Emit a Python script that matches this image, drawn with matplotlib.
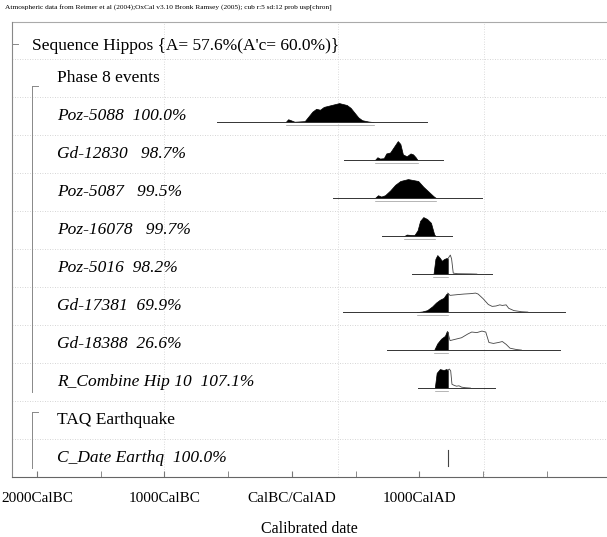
import numpy as np
import matplotlib.pyplot as plt
from matplotlib.ticker import FixedLocator, MultipleLocator
import matplotlib.transforms as mtransforms

plt.rcParams['font.family'] = ['Liberation Serif', 'DejaVu Serif']

# ---- data (years AD, negative = BC; p = relative height) ----
header = ("Atmospheric data from Reimer et al (2004);OxCal v3.10 Bronk Ramsey (2005); "
          "cub r:5 sd:12 prob usp[chron]")
title = "Sequence Hippos {A= 57.6%(A'c= 60.0%)}"
phase_label = "Phase 8 events"
taq_label = "TAQ Earthquake"

sample_labels = ["Poz-5088  100.0%", "Gd-12830   98.7%", "Poz-5087   99.5%",
                 "Poz-16078   99.7%", "Poz-5016  98.2%", "Gd-17381  69.9%",
                 "Gd-18388  26.6%", "R_Combine Hip 10  107.1%"]
cdate_label = "C_Date Earthq  100.0%"

# extent of the thin likelihood line under each distribution
line_start = [-590, 408, 322, 706, 941, 400, 745, 988]
line_end = [1059, 1184, 1490, 1255, 1569, 2141, 2102, 1592]

# filled posterior distributions
post_yr = [
    [-50, -30, -10, 20, 100, 130, 160, 190, 220, 250, 280, 310, 340, 370, 400, 430, 460, 490, 520, 550, 600, 640],
    [650, 670, 690, 720, 740, 770, 800, 830, 850, 870, 900, 930, 950, 970, 985],
    [650, 675, 700, 730, 770, 810, 850, 880, 910, 950, 990, 1030, 1070, 1110, 1130],
    [880, 900, 930, 960, 985, 1005, 1030, 1060, 1090, 1115, 1125],
    [1110, 1125, 1140, 1160, 1175, 1195, 1215, 1222],
    [980, 1020, 1060, 1100, 1130, 1160, 1190, 1210, 1222],
    [1115, 1140, 1170, 1200, 1215, 1222],
    [1120, 1135, 1160, 1190, 1210, 1222],
]
post_p = [
    [0, 0.15, 0.10, 0.02, 0.05, 0.30, 0.55, 0.70, 0.65, 0.80, 0.85, 0.90, 0.95, 1.0, 0.95, 0.90, 0.75, 0.50, 0.25, 0.10, 0.03, 0],
    [0, 0.15, 0.08, 0.10, 0.35, 0.40, 0.70, 1.0, 0.85, 0.30, 0.20, 0.35, 0.30, 0.15, 0],
    [0, 0.15, 0.08, 0.15, 0.40, 0.70, 0.90, 0.95, 1.0, 0.95, 0.90, 0.60, 0.35, 0.10, 0],
    [0, 0.08, 0.06, 0.05, 0.30, 0.80, 1.0, 0.90, 0.70, 0.10, 0],
    [0, 0.80, 1.0, 0.85, 0.70, 0.80, 0.85, 0.80],
    [0, 0.03, 0.10, 0.30, 0.50, 0.65, 0.75, 0.95, 1.0],
    [0, 0.35, 0.60, 0.75, 1.0, 0.95],
    [0, 0.80, 1.0, 0.95, 1.0, 0.95],
]

# unfilled likelihood outline continuing after the earthquake cut-off (None = no outline)
like_yr = [None, None, None, None,
           [1222, 1232, 1242, 1252, 1265, 1300, 1400, 1450],
           [1222, 1240, 1300, 1350, 1400, 1440, 1460, 1500, 1540, 1570, 1600, 1630, 1650, 1680, 1700, 1740, 1800, 1850],
           [1222, 1240, 1270, 1300, 1330, 1380, 1410, 1450, 1490, 1520, 1545, 1580, 1620, 1650, 1680, 1710, 1760, 1800],
           [1222, 1235, 1245, 1255, 1270, 1290, 1310, 1330, 1360, 1400]]
like_p = [None, None, None, None,
          [0.80, 0.90, 1.0, 0.80, 0.05, 0.02, 0.01, 0],
          [1.0, 0.88, 0.92, 0.95, 0.97, 1.0, 0.95, 0.70, 0.40, 0.30, 0.32, 0.38, 0.35, 0.38, 0.20, 0.08, 0.02, 0],
          [0.95, 0.50, 0.55, 0.60, 0.65, 0.85, 0.95, 0.92, 1.0, 0.95, 0.40, 0.35, 0.40, 0.45, 0.30, 0.10, 0.03, 0],
          [0.95, 1.0, 0.90, 0.20, 0.15, 0.10, 0.12, 0.05, 0.02, 0]]

earthquake_year = 1222

tick_years = [-2000, -1000, 0, 1000]
tick_labels = ["2000CalBC", "1000CalBC", "CalBC/CalAD", "1000CalAD"]
grid_years = [-1000, 360, 1510]

# ---- figure ----
W, H = 607, 537
fig = plt.figure(figsize=(W / 100, H / 100), dpi=100)
ax = fig.add_axes([12 / W, 1 - 477 / H, 595 / W, 455 / H])
ax.set_xlim(-2196, 2471)
ax.set_ylim(11.5, -0.474)

for s in ['top', 'right']:
    ax.spines[s].set_visible(False)
ax.spines['left'].set_color('#888888')
ax.spines['left'].set_linewidth(0.8)
ax.spines['bottom'].set_color('#666666')
ax.spines['bottom'].set_linewidth(0.8)
ax.axhline(-0.474, color='#aaaaaa', lw=0.8, clip_on=False)

ax.xaxis.set_major_locator(FixedLocator(tick_years))
ax.xaxis.set_minor_locator(MultipleLocator(500))
ax.set_xticklabels(tick_labels, fontsize=11)
ax.tick_params(axis='x', which='both', direction='in', length=4, color='#777777', pad=11)
ax.set_yticks([])
ax.set_xlabel('Calibrated date', fontsize=11.5, labelpad=11.5)

# faint dotted grid
for r in np.arange(0.5, 11, 1.0):
    ax.axhline(r, color='#c8c8c8', lw=0.6, ls=(0, (1, 2)), zorder=0)
for gy in grid_years:
    ax.axvline(gy, color='#d0d0d0', lw=0.6, ls=(0, (1, 2)), zorder=0)

trans = mtransforms.blended_transform_factory(ax.transAxes, ax.transData)

fig.text(5 / W, 1 - 8 / H, header, fontsize=5.3, va='center', ha='left')
ax.text(20 / 595, 0.15, title, transform=trans, fontsize=12.5, va='center')
ax.text(45 / 595, 1, phase_label, transform=trans, fontsize=12.5, va='center')
ax.text(45 / 595, 10, taq_label, transform=trans, fontsize=12.5, va='center')
ax.text(45 / 595, 11, cdate_label, transform=trans, fontsize=12.5, va='center',
        style='italic')

# brackets for the phases
bx = 20 / 595
for y0, y1 in [(1.2, 9.25), (9.8, 11.25)]:
    ax.plot([bx, bx], [y0, y1], transform=trans, color='#888888', lw=0.7)
    ax.plot([bx, bx + 6 / 595], [y0, y0], transform=trans, color='#888888', lw=0.7)
ax.plot([0, 6 / 595], [0.1, 0.1], transform=trans, color='#888888', lw=0.7)

scale = 0.5
for i, lab in enumerate(sample_labels):
    row = i + 2
    base = row + 0.16
    ax.text(45 / 595, row, lab, transform=trans, fontsize=12.5, va='center',
            style='italic')
    ax.plot([line_start[i], line_end[i]], [base, base], color='#333333', lw=0.7)
    yr = np.array(post_yr[i])
    p = np.array(post_p[i])
    ax.fill_between(yr, base, base - p * scale, color='black', lw=0.5)
    ax.plot([yr[0], yr[-1]], [base + 0.07, base + 0.07], color='#999999', lw=0.5)
    if like_yr[i] is not None:
        ax.plot(like_yr[i], base - np.array(like_p[i]) * scale, color='#444444', lw=0.6)

# point estimate for the earthquake C_Date
ax.plot([earthquake_year, earthquake_year], [11.2, 10.8], color='#444444', lw=0.8)

fig.savefig('out.png', dpi=100)
